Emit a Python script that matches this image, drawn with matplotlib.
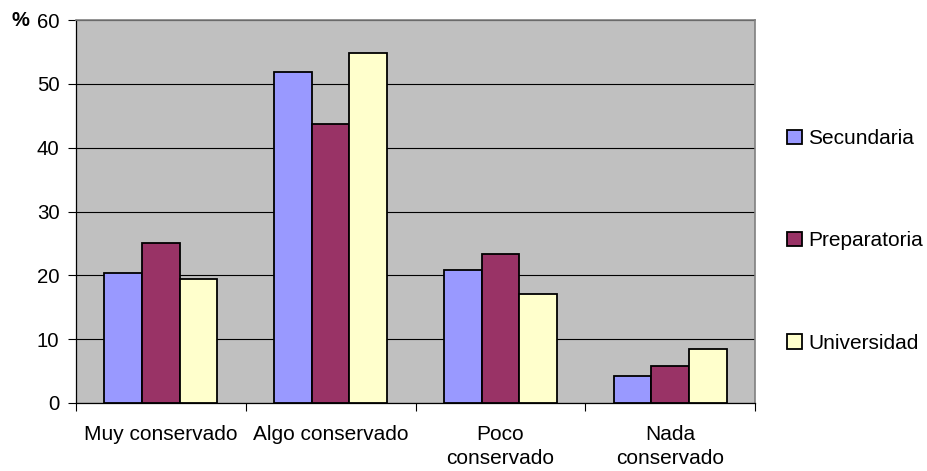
import matplotlib
matplotlib.use("Agg")
import matplotlib.pyplot as plt
import numpy as np

categories = ["Muy conservado", "Algo conservado", "Poco\nconservado", "Nada\nconservado"]
series_names = ["Secundaria", "Preparatoria", "Universidad"]
secundaria = [20.3, 51.8, 20.8, 4.2]
preparatoria = [25.0, 43.7, 23.4, 5.8]
universidad = [19.4, 54.8, 17.0, 8.5]
y_ticks = [0, 10, 20, 30, 40, 50, 60]
colors = ["#9999FF", "#993366", "#FFFFCC"]

plt.rcParams['font.family'] = ['Liberation Sans', 'DejaVu Sans']

fig = plt.figure(figsize=(9.27, 4.71), dpi=100)
ax = fig.add_axes([76/927, 68/471, 679/927, 383/471])
ax.set_facecolor("#C0C0C0")

x = np.arange(len(categories))
bw = 1/4.5
for i, (vals, name) in enumerate(zip([secundaria, preparatoria, universidad], series_names)):
    ax.bar(x + (i-1)*bw, vals, width=bw, color=colors[i], edgecolor="black",
           linewidth=1.3, label=name, zorder=3)

ax.set_xlim(-0.5, len(categories)-0.5)
ax.set_ylim(0, 60)
ax.set_yticks(y_ticks)
ax.yaxis.grid(True, color="black", linewidth=0.8, zorder=1)
ax.set_axisbelow(True)
ax.tick_params(axis='y', direction='out', length=6, width=0.8, pad=6, labelsize=14.7)
ax.set_xticks(x)
ax.set_xticklabels(categories, fontsize=15, linespacing=1.3, va='top')
ax.tick_params(axis='x', which='major', length=0, pad=16)
ax.set_xticks(np.arange(-0.5, len(categories)), minor=True)
ax.tick_params(axis='x', which='minor', direction='out', length=6, width=0.8)

for s in ['left', 'bottom']:
    ax.spines[s].set_color("black")
    ax.spines[s].set_linewidth(0.9)
for s in ['top', 'right']:
    ax.spines[s].set_color("#808080")
    ax.spines[s].set_linewidth(1.2)

fig.text(11/927, 1 - 20/471, "%", fontsize=14.5, fontweight='bold', va='center', ha='left')

fig.legend(loc='center left', bbox_to_anchor=(779/927, 1 - 241/471), frameon=False,
           fontsize=15, handlelength=0.7, handleheight=0.7, handletextpad=0.3,
           labelspacing=4.0, borderaxespad=0, borderpad=0.4)

fig.savefig("out.png", dpi=100)
